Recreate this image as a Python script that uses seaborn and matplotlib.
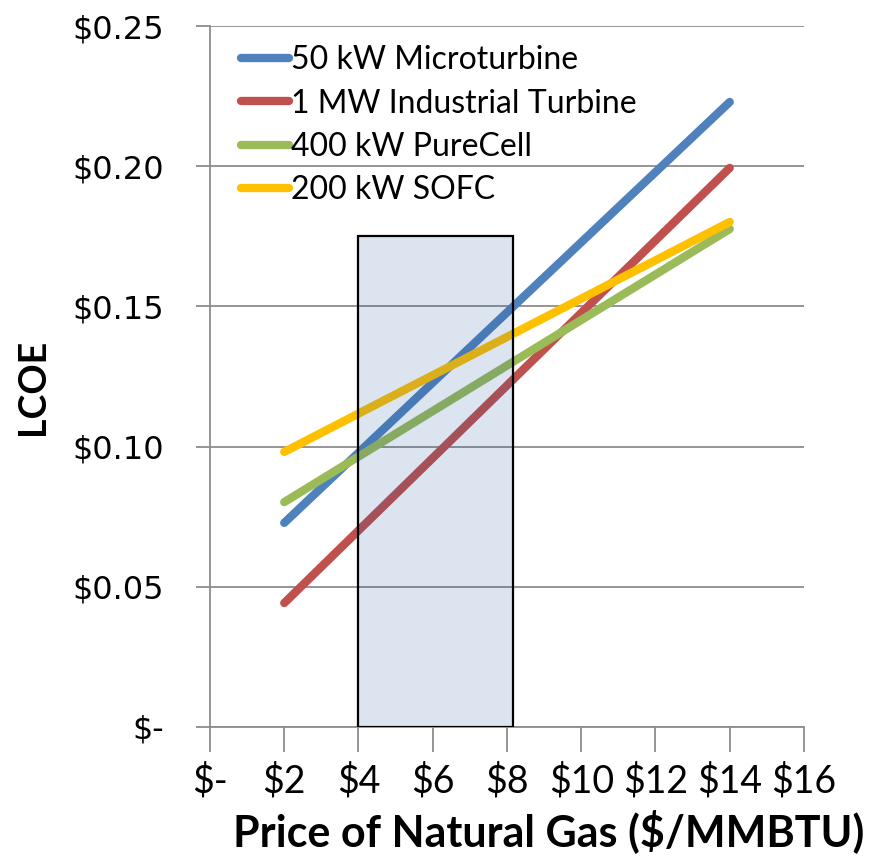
import matplotlib
matplotlib.use("Agg")
import matplotlib.pyplot as plt
import seaborn as sns
import pandas as pd
from matplotlib.ticker import FixedLocator, FuncFormatter

# ---- data ----
gas_price = [2, 14]
microturbine = [0.0728, 0.2229]
industrial_turbine = [0.0442, 0.1994]
purecell = [0.0802, 0.1776]
sofc = [0.0981, 0.1801]
series_names = ["50 kW Microturbine", "1 MW Industrial Turbine", "400 kW PureCell", "200 kW SOFC"]
series_values = [microturbine, industrial_turbine, purecell, sofc]
colors = ["#4F81BD", "#C0504D", "#9BBB59", "#FFC000"]

box_x_start = 4.0
box_width = 4.15
box_height = 0.175

x_ticks = [0, 2, 4, 6, 8, 10, 12, 14, 16]
y_ticks = [0, 0.05, 0.10, 0.15, 0.20, 0.25]

rows = []
for name, vals in zip(series_names, series_values):
    for x, v in zip(gas_price, vals):
        rows.append({"price": x, "lcoe": v, "series": name})
df = pd.DataFrame(rows)

sns.set_theme(style="white")
fig = plt.figure(figsize=(8.94, 8.64), dpi=100)
ax = fig.add_axes([0.2349, 0.1586, 0.8993 - 0.2349, 0.9699 - 0.1586])

LW = 6.0
sns.lineplot(data=df, x="price", y="lcoe", hue="series", hue_order=series_names,
             palette=colors, linewidth=LW, ax=ax, zorder=3)
for ln in ax.get_lines():
    ln.set_solid_capstyle("round")

ax.bar([box_x_start], [box_height], width=box_width, align="edge",
       color="#1F579C", alpha=0.16, edgecolor="none", zorder=4)
ax.bar([box_x_start], [box_height], width=box_width, align="edge",
       facecolor="none", edgecolor="black", linewidth=1.6, zorder=5)

ax.set_xlim(0, 16)
ax.set_ylim(0, 0.25)
ax.xaxis.set_major_locator(FixedLocator(x_ticks))
ax.yaxis.set_major_locator(FixedLocator(y_ticks))
ax.xaxis.set_major_formatter(FuncFormatter(lambda v, p: "$-" if v == 0 else f"${int(v)}"))
ax.yaxis.set_major_formatter(FuncFormatter(lambda v, p: "$-" if v == 0 else f"${v:.2f}"))

grid_c = "#8C8C8C"
ax.grid(axis="y", color=grid_c, linewidth=1.3, zorder=0)
ax.grid(axis="x", visible=False)
for s in ["top", "right"]:
    ax.spines[s].set_visible(False)
for s in ["left", "bottom"]:
    ax.spines[s].set_visible(True)
    ax.spines[s].set_color(grid_c)
    ax.spines[s].set_linewidth(1.3)

ax.tick_params(axis="x", direction="out", length=18, width=1.3, color=grid_c, pad=8,
               labelsize=27, bottom=True, labelcolor="black")
ax.tick_params(axis="y", direction="out", length=10, width=1.3, color=grid_c, pad=23,
               labelsize=23, left=True, labelcolor="black")
for lab in ax.get_xticklabels():
    lab.set_fontfamily("Lato")
for lab in ax.get_yticklabels():
    lab.set_fontfamily("DejaVu Sans")

ax.set_xlabel("Price of Natural Gas ($/MMBTU)", fontsize=31, fontweight="bold",
              fontfamily="Lato", color="black")
ax.xaxis.set_label_coords(0.571, -0.117)
ax.set_ylabel("LCOE", fontsize=27, fontweight="bold", fontfamily="Lato", color="black")
ax.yaxis.set_label_coords(-0.269, 0.485)

leg = ax.legend(loc="upper left", bbox_to_anchor=(0.02, 1.0), frameon=False,
                prop={"family": "Lato", "size": 23}, handlelength=1.5, handletextpad=0.05,
                labelspacing=0.42, borderaxespad=0.2)
for h in leg.get_lines():
    h.set_linewidth(LW)
    h.set_solid_capstyle("round")
for t in leg.get_texts():
    t.set_color("black")

fig.savefig("out.png", dpi=100)
